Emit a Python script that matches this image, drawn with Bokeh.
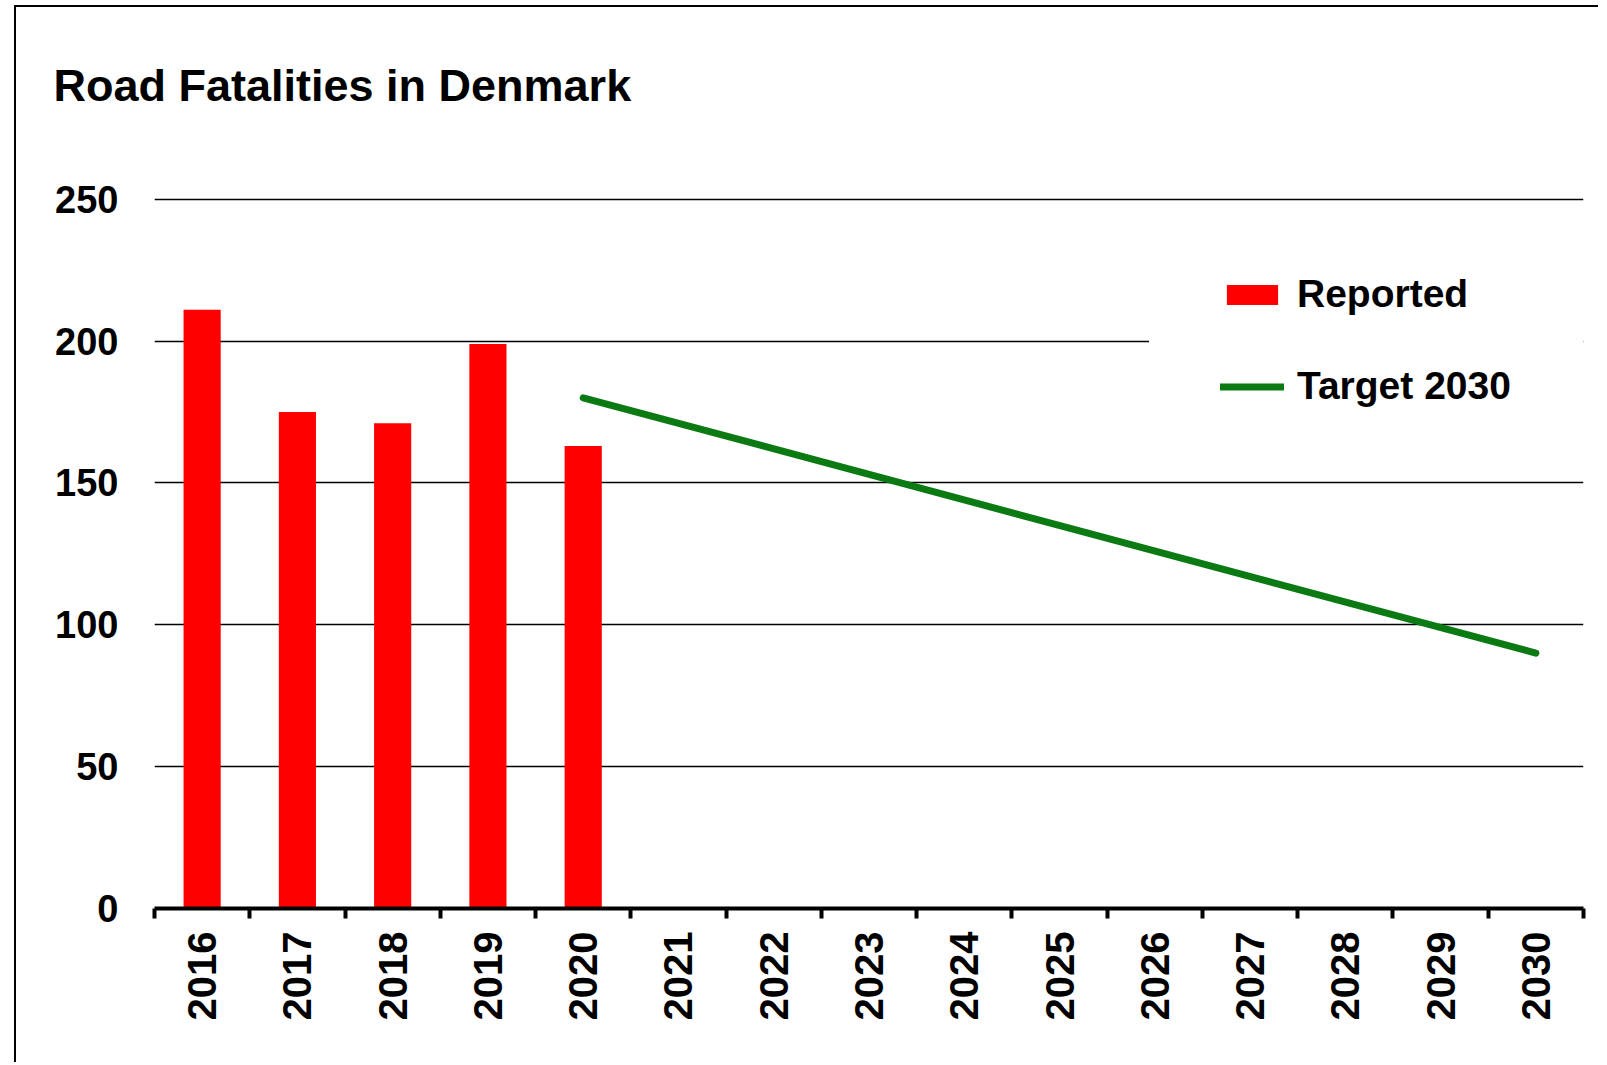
import math
from bokeh.plotting import figure
from bokeh.models import Range1d, FixedTicker, Legend, LegendItem, Title
from bokeh.embed import file_html
from bokeh.resources import INLINE

# ---- data ----
years = ["2016", "2017", "2018", "2019", "2020", "2021", "2022", "2023",
         "2024", "2025", "2026", "2027", "2028", "2029", "2030"]
reported_years = ["2016", "2017", "2018", "2019", "2020"]
reported = [211, 175, 171, 199, 163]
target_years = ["2020", "2030"]
target = [180, 90]
y_ticks = [0, 50, 100, 150, 200, 250]
title_text = "Road Fatalities in Denmark"

FONT = "Liberation Sans"
RED = "#FF0000"
GREEN = "#0B7A12"

# category centre positions on a numeric scale (boundaries at integers)
pos = {y: i + 0.5 for i, y in enumerate(years)}

p = figure(width=1584, height=1057, output_backend="svg", toolbar_location=None,
           x_range=Range1d(0, len(years)), y_range=Range1d(0, 252),
           min_border_left=138, min_border_right=17,
           min_border_top=186, min_border_bottom=156)
p.styles = {"border-top": "2px solid black", "border-left": "2px solid black",
            "margin-left": "14px", "margin-top": "5px"}
p.outline_line_color = None
p.background_fill_color = "white"
p.border_fill_color = "white"

bars = p.vbar(x=[pos[y] for y in reported_years], top=reported, bottom=0,
              width=0.39, fill_color=RED, line_color=None)
line = p.line(x=[pos[y] for y in target_years], y=target,
              line_color=GREEN, line_width=7, line_cap="round")

# x axis: labels at centres, tick marks at category boundaries
xa = p.xaxis[0]
xa.ticker = FixedTicker(ticks=[pos[y] for y in years],
                        minor_ticks=list(range(len(years) + 1)))
xa.major_label_overrides = {pos[y]: y for y in years}
xa.axis_line_color = "black"
xa.axis_line_width = 4
xa.major_tick_in = 0
xa.major_tick_out = 0
xa.minor_tick_in = 0
xa.minor_tick_out = 10
xa.minor_tick_line_width = 4
xa.minor_tick_line_color = "black"
xa.major_label_orientation = math.pi / 2
xa.major_label_text_font = FONT
xa.major_label_text_font_style = "bold"
xa.major_label_text_font_size = "40px"
xa.major_label_text_color = "black"
xa.major_label_standoff = 13

# y axis
ya = p.yaxis[0]
ya.ticker = FixedTicker(ticks=y_ticks)
ya.axis_line_color = None
ya.major_tick_line_color = None
ya.minor_tick_line_color = None
ya.major_label_text_font = FONT
ya.major_label_text_font_style = "bold"
ya.major_label_text_font_size = "38px"
ya.major_label_text_color = "black"
ya.major_label_standoff = 30

p.xgrid.visible = False
p.ygrid.ticker = FixedTicker(ticks=y_ticks)
p.ygrid.grid_line_color = "black"
p.ygrid.grid_line_width = 1.3

# title, lifted away from the frame by an (invisible) spacer in the above panel
p.title.text = title_text
p.title.text_font = FONT
p.title.text_font_style = "bold"
p.title.text_font_size = "45px"
p.title.text_color = "black"
p.title.align = "left"
p.title.offset = -101
p.title.standoff = 0
spacer = Title(text=" ", text_font_size="1px", standoff=80)
p.add_layout(spacer, "above")

legend = Legend(items=[LegendItem(label="Reported", renderers=[bars]),
                       LegendItem(label="Target 2030", renderers=[line])],
                location=(995, 429), glyph_width=64, glyph_height=25,
                label_standoff=13, spacing=48, padding=70, margin=0,
                label_width=230,
                label_text_font=FONT, label_text_font_style="bold",
                label_text_font_size="39px", label_text_color="black",
                border_line_color="white", border_line_width=1,
                background_fill_color="white", background_fill_alpha=1.0)
p.add_layout(legend)

open("out.html", "w").write(file_html(p, INLINE))
